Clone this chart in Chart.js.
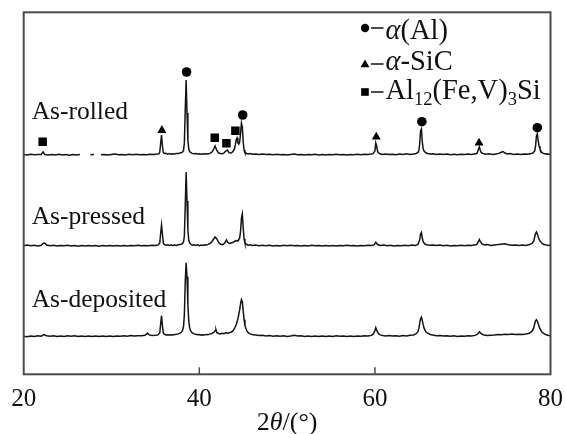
<!DOCTYPE html>
<html>
<head>
<meta charset="utf-8">
<script src="https://cdn.jsdelivr.net/npm/chart.js@4.4.0/dist/chart.umd.min.js"></script>
<style>
html,body{margin:0;padding:0;background:#fff;}
canvas{display:block;}
</style>
</head>
<body>
<canvas id="c" width="565" height="434"></canvas>
<script>
// ---- data (2θ in degrees, intensity in arbitrary units above each trace's baseline) ----
const tickValues = [20, 40, 60, 80];
const sampleNames = ['As-rolled', 'As-pressed', 'As-deposited'];
const traceOffsets = [219.3, 128.3, 37.6];

const asRolled = [
[20.0,0.5],[20.4,0],[20.8,0.8],[21.2,0.2],[21.6,0.6],[22.0,0.4],[22.2,3.2],[22.4,0.5],[22.8,0],[23.2,0.6],
[23.6,0.1],[24.0,0.7],[24.4,0],[24.8,0.4],[25.2,-0.2],[25.6,0.6],[26.0,0.1],[26.4,0.5],[26.8,null],[27.2,null],
[27.6,0.3],[28.0,0.5],[28.4,null],[28.8,0.2],[29.2,0.6],[29.6,0],[30.0,0.5],[30.4,0.9],[30.8,0.2],[31.2,0.6],
[31.6,0.1],[32.0,0.7],[32.4,0.3],[32.8,0.8],[33.2,0.2],[33.6,0.6],[34.0,0.3],[34.4,0.8],[34.8,0.4],[35.2,0.9],
[35.4,1.2],[35.5,3],[35.6,12],[35.7,20],[35.8,9],[35.9,2.5],[36.0,1.5],[36.2,1.8],[36.4,0.9],[36.6,1.4],
[36.8,0.8],[37.0,1.3],[37.2,1],[37.4,1.6],[37.6,1.4],[37.8,2],[38.0,2.4],[38.1,3],[38.2,4.5],[38.3,12],
[38.4,45],[38.5,75],[38.6,42],[38.7,15],[38.8,6],[38.9,3.5],[39.0,2.5],[39.2,1.6],[39.4,1.2],[39.6,1.5],
[39.8,0.9],[40.0,1.2],[40.2,0.8],[40.4,1.3],[40.6,0.9],[40.8,1.2],[41.0,1.1],[41.2,1.6],[41.4,2.5],[41.6,5],
[41.8,9],[42.0,4.5],[42.2,2],[42.4,1.5],[42.6,1.2],[42.8,1.8],[43.0,4],[43.2,5],[43.4,2.2],[43.6,2],
[43.8,3],[44.0,6],[44.1,10],[44.2,15],[44.3,17],[44.4,12],[44.5,11],[44.6,13],[44.7,22],[44.8,32],
[44.9,28],[45.0,13],[45.1,5],[45.2,2.5],[45.4,1.5],[45.6,1],[45.8,1.4],[46.0,0.8],[46.4,1.1],[46.8,0.5],
[47.2,0.9],[47.6,0.4],[48.0,0.8],[48.4,0.3],[48.8,0.7],[49.2,0.2],[49.6,0.6],[50.0,0.1],[50.4,0.5],[50.8,0.9],
[51.2,0.3],[51.6,0.6],[52.0,0],[52.4,0.5],[52.8,0.2],[53.2,0.7],[53.6,0.1],[54.0,0.5],[54.4,0],[54.8,0.6],
[55.2,0.2],[55.6,0.7],[56.0,0.3],[56.4,0.6],[56.8,0],[57.2,0.5],[57.6,0.2],[58.0,0.7],[58.4,0.3],[58.8,0.8],
[59.2,0.4],[59.6,0.9],[59.8,1.3],[60.0,4],[60.1,12],[60.2,9],[60.3,4],[60.4,2],[60.6,1.2],[60.8,0.6],
[61.2,1],[61.6,0.4],[62.0,0.8],[62.4,0.2],[62.8,1],[63.2,0.5],[63.6,1.2],[64.0,0.6],[64.4,1],[64.7,1.5],
[64.9,2.5],[65.0,4],[65.1,11],[65.2,24],[65.3,26],[65.4,13],[65.5,6],[65.6,4],[65.8,2.2],[66.0,1.5],
[66.3,1],[66.6,1.3],[67.0,0.6],[67.4,1],[67.8,0.4],[68.2,0.9],[68.6,0.3],[69.0,0.8],[69.4,0.2],[69.8,0.7],
[70.2,0.4],[70.6,1],[71.0,0.5],[71.3,1.1],[71.6,1.5],[71.7,3],[71.8,6],[71.9,8],[72.0,5],[72.1,2.5],
[72.3,1.5],[72.6,0.8],[73.0,1.2],[73.4,0.5],[73.8,1.1],[74.1,1.6],[74.4,2.8],[74.6,3.5],[74.8,2],[75.1,1],
[75.4,1.4],[75.8,0.6],[76.2,1],[76.6,0.5],[77.0,1.1],[77.4,0.7],[77.8,1.4],[78.0,2],[78.2,4],[78.3,9],
[78.4,19],[78.5,21],[78.6,14],[78.7,9],[78.8,6],[78.9,4],[79.0,2.5],[79.2,1.6],[79.4,1],[79.6,1.3],
[79.8,0.7],[80.0,1]
];

const asPressed = [
[20.0,0.3],[20.4,0.9],[20.8,0.2],[21.2,0.7],[21.6,0.1],[22.0,0.8],[22.2,2.5],[22.4,3],[22.6,0.9],[23.0,0.3],
[23.4,0.8],[23.8,0],[24.2,0.6],[24.6,0.2],[25.0,0.7],[25.4,0],[25.8,0.5],[26.2,-0.2],[26.6,0.4],[27.0,0],
[27.4,0.6],[27.8,0.1],[28.2,0.5],[28.6,-0.2],[29.0,0.4],[29.4,0],[29.8,0.6],[30.2,0.1],[30.6,0.5],[31.0,-0.1],
[31.4,0.4],[31.8,0],[32.2,0.6],[32.6,0.2],[33.0,0.7],[33.4,0.2],[33.8,0.6],[34.2,0.3],[34.6,0.8],[35.0,0.5],
[35.3,1],[35.5,3],[35.6,13],[35.7,21],[35.8,12],[35.9,3],[36.0,1.5],[36.2,0.8],[36.4,1.2],[36.6,0.6],
[36.8,1.1],[37.0,0.5],[37.2,1],[37.4,0.6],[37.6,1.2],[37.8,1.4],[38.0,2],[38.1,2.5],[38.2,4],[38.3,10],
[38.4,40],[38.5,74],[38.6,45],[38.7,16],[38.8,6],[38.9,3],[39.0,2],[39.2,0.8],[39.4,1.3],[39.6,0.6],
[39.8,1.1],[40.0,0.4],[40.2,1],[40.4,0.5],[40.6,1.2],[40.8,0.9],[41.0,1.6],[41.2,2.5],[41.4,4],[41.6,6.5],
[41.8,9],[42.0,7],[42.2,3.5],[42.4,2],[42.6,1.2],[42.8,2],[43.0,4.5],[43.1,6],[43.2,4],[43.4,2.5],
[43.6,3],[43.8,3.5],[44.0,4.5],[44.2,5.5],[44.4,5],[44.6,8],[44.7,15],[44.8,28],[44.9,32],[45.0,18],
[45.1,7],[45.2,3],[45.4,1.5],[45.6,0.8],[45.8,1.2],[46.0,0.5],[46.4,1],[46.8,0.3],[47.2,0.8],[47.6,0.2],
[48.0,0.7],[48.4,0],[48.8,0.6],[49.2,0.1],[49.6,0.7],[50.0,0.2],[50.4,0.8],[50.8,0.3],[51.2,0.6],[51.6,0],
[52.0,0.5],[52.4,0.1],[52.8,0.7],[53.2,0.2],[53.6,0.6],[54.0,-0.1],[54.4,0.5],[54.8,0.1],[55.2,0.6],[55.6,0],
[56.0,0.5],[56.4,0.2],[56.8,0.8],[57.2,0.3],[57.6,0.6],[58.0,0],[58.4,0.5],[58.8,0.2],[59.2,0.7],[59.6,0.4],
[59.9,1.2],[60.1,3.8],[60.3,1.5],[60.6,0.6],[61.0,0.9],[61.4,0.3],[61.8,0.8],[62.2,0.1],[62.6,0.6],[63.0,0.2],
[63.4,0.8],[63.8,0.3],[64.2,0.9],[64.6,0.6],[64.9,1.5],[65.1,6],[65.2,12],[65.3,13.5],[65.4,8],[65.5,4],
[65.7,2],[65.9,1.3],[66.2,0.8],[66.6,1],[67.0,0.4],[67.4,0.9],[67.8,0.2],[68.2,0.7],[68.6,0],[69.0,0.6],
[69.4,0.2],[69.8,0.8],[70.2,0.3],[70.6,0.7],[71.0,0.4],[71.3,1],[71.6,1.5],[71.8,4.5],[71.9,6.5],[72.0,4.5],
[72.2,2],[72.5,1],[72.8,1.4],[73.2,0.6],[73.6,1.1],[74.0,1.4],[74.4,1.8],[74.8,2.2],[75.2,1.2],[75.6,0.7],
[76.0,1],[76.4,0.4],[76.8,0.9],[77.2,0.6],[77.6,1.4],[77.9,2.5],[78.1,5],[78.2,9],[78.3,12.5],[78.4,14],
[78.5,12],[78.6,9],[78.8,5],[79.0,3],[79.2,1.8],[79.5,1],[79.8,0.6],[80.0,0.9]
];

const asDeposited = [
[20.0,0.5],[20.4,0],[20.8,0.7],[21.2,0.3],[21.6,0.9],[22.0,0.5],[22.3,2.2],[22.6,1],[23.0,0.4],[23.4,1],
[23.8,0.3],[24.2,0.8],[24.6,0.2],[25.0,0.9],[25.4,0.4],[25.8,1],[26.2,0.3],[26.6,0.8],[27.0,0.2],[27.4,0.7],
[27.8,0.1],[28.2,0.6],[28.6,0.2],[29.0,0.8],[29.4,0.3],[29.8,0.7],[30.2,0.2],[30.6,0.8],[31.0,0.4],[31.4,0.9],
[31.8,0.5],[32.2,1.1],[32.6,0.6],[33.0,1],[33.4,0.9],[33.8,1.5],[34.0,2.5],[34.1,3.5],[34.3,1.8],[34.6,1.2],
[35.0,1.5],[35.3,1.8],[35.5,4],[35.6,13],[35.7,21],[35.8,11],[35.9,4],[36.0,2.5],[36.2,1.8],[36.4,2],
[36.6,1.6],[36.8,2],[37.0,1.8],[37.2,2.2],[37.4,2.4],[37.6,2.8],[37.8,3.5],[38.0,5],[38.1,6.5],[38.2,10],
[38.3,22],[38.4,55],[38.5,74],[38.6,60],[38.7,32],[38.8,16],[38.9,9],[39.0,6],[39.2,3.8],[39.4,2.8],
[39.6,2.5],[39.8,2],[40.0,2.2],[40.2,1.6],[40.4,2],[40.6,1.8],[40.8,2.3],[41.0,2],[41.2,2.6],[41.4,3],
[41.6,4],[41.8,6],[41.9,7],[42.0,4],[42.2,3.2],[42.4,2.8],[42.6,3.5],[42.8,3],[43.0,3.8],[43.2,3.5],
[43.4,4],[43.6,4.5],[43.8,5.5],[44.0,8],[44.2,12],[44.4,18],[44.6,27],[44.7,33],[44.8,37],[44.9,35],
[45.0,26],[45.1,17],[45.2,11],[45.4,6],[45.6,3.8],[45.8,2.8],[46.0,2.2],[46.4,1.8],[46.8,1.2],[47.2,1.5],
[47.6,0.8],[48.0,1.2],[48.4,0.5],[48.8,1],[49.2,0.4],[49.6,0.9],[50.0,0.3],[50.4,0.8],[50.8,1.4],[51.2,0.6],
[51.6,1],[52.0,0.3],[52.4,0.8],[52.8,0.2],[53.2,0.7],[53.6,0.1],[54.0,0.6],[54.4,0.2],[54.8,0.8],[55.2,0.3],
[55.6,0.9],[56.0,0.4],[56.4,0.7],[56.8,0.1],[57.2,0.6],[57.6,0.2],[58.0,0.8],[58.4,0.4],[58.8,1],[59.2,0.6],
[59.6,1.3],[59.8,2.5],[60.0,6],[60.1,9],[60.2,6.5],[60.4,3],[60.6,1.8],[60.9,1.2],[61.2,0.8],[61.6,1.3],
[62.0,0.6],[62.4,1],[62.8,0.5],[63.2,1.2],[63.6,0.8],[64.0,1.5],[64.4,1.8],[64.7,3],[64.9,5],[65.0,8],
[65.1,13],[65.2,18],[65.3,19.5],[65.4,16],[65.5,12],[65.6,8.5],[65.8,5],[66.0,3.5],[66.3,2.2],[66.6,1.6],
[67.0,1],[67.4,1.3],[67.8,0.6],[68.2,1],[68.6,0.4],[69.0,0.9],[69.4,0.3],[69.8,0.8],[70.2,0.5],[70.6,1],
[71.0,0.7],[71.4,1.3],[71.7,2.5],[71.9,5],[72.1,3],[72.4,1.6],[72.8,1.2],[73.2,1.5],[73.6,1.8],[74.0,2.2],
[74.4,1.9],[74.8,2.4],[75.2,2.1],[75.6,2.6],[76.0,2.2],[76.4,2.5],[76.8,2.2],[77.2,2.8],[77.6,3.5],[77.9,5.5],
[78.1,9],[78.2,13],[78.3,16],[78.4,17],[78.5,15.5],[78.6,13],[78.8,8],[79.0,5],[79.2,3.2],[79.5,2],
[79.8,1.2],[80.0,1]
];

// phase markers above the As-rolled trace: [2θ, height above As-rolled baseline]
const alphaAlPeaks = [[38.55,83],[44.94,40],[65.35,33.3],[78.5,27.3]];
const alphaSiCPeaks = [[35.74,24.7],[60.16,18],[71.86,12]];
const al12Peaks = [[22.16,13.3],[41.76,17.3],[43.09,11.7],[44.11,24.3]];

// ---- build chart ----
const SERIF = "'Liberation Serif','Times New Roman',serif";
function toPts(arr, off) { return arr.map(([x, v]) => ({x: x, y: v === null ? null : v + off})); }

const lineDs = [asRolled, asPressed, asDeposited].map((arr, i) => ({
  label: sampleNames[i],
  data: toPts(arr, traceOffsets[i]),
  borderColor: '#141414',
  borderWidth: 1.5,
  pointRadius: 0,
  tension: 0,
  spanGaps: false,
  fill: false
}));
function markerDs(arr, style, r) {
  return {
    data: toPts(arr, traceOffsets[0]),
    showLine: false,
    pointStyle: style,
    pointRadius: r,
    pointBackgroundColor: '#000',
    pointBorderColor: '#000',
    pointBorderWidth: 0
  };
}

function drawRuns(ctx, runs, x, y) {
  for (const r of runs) {
    ctx.font = r.font;
    ctx.fillText(r.t, x, y + (r.dy || 0));
    x += ctx.measureText(r.t).width;
  }
}

const deco = {
  id: 'deco',
  afterDraw(chart) {
    const {ctx, chartArea: a, scales: {x}} = chart;
    ctx.save();
    // frame
    ctx.strokeStyle = '#4a4a4a';
    ctx.lineWidth = 2;
    ctx.strokeRect(a.left, a.top, a.right - a.left, a.bottom - a.top);
    // inward ticks
    ctx.lineWidth = 1.5;
    for (const v of tickValues) {
      const px = x.getPixelForValue(v);
      if (px <= a.left + 1 || px >= a.right - 1) continue;
      ctx.beginPath();
      ctx.moveTo(px, a.bottom);
      ctx.lineTo(px, a.bottom - 7);
      ctx.stroke();
    }
    ctx.fillStyle = '#111';
    ctx.textBaseline = 'alphabetic';
    ctx.textAlign = 'left';
    // sample labels
    const lblY = [119.3, 224.3, 306.7];
    ctx.font = '25.5px ' + SERIF;
    sampleNames.forEach((n, i) => ctx.fillText(n, a.left + 8, lblY[i]));
    // axis title
    const f = '26px ' + SERIF, fi = 'italic 26px ' + SERIF;
    const titleRuns = [{t: '2', font: f}, {t: 'θ', font: fi}, {t: '/(°)', font: f}];
    let w = 0;
    for (const r of titleRuns) { ctx.font = r.font; w += ctx.measureText(r.t).width; }
    drawRuns(ctx, titleRuns, (a.left + a.right) / 2 - w / 2, 430);
    // legend
    const lx = 365;
    const lf = '28.5px ' + SERIF, lfi = 'italic 28.5px ' + SERIF, ls = '18.5px ' + SERIF;
    const rows = [
      {my: 28, ty: 38.5, runs: [{t: 'α', font: lfi}, {t: '(Al)', font: lf}]},
      {my: 64, ty: 69.5, runs: [{t: 'α', font: lfi}, {t: '-SiC', font: lf}]},
      {my: 92, ty: 99, runs: [{t: 'Al', font: lf}, {t: '12', font: ls, dy: 5.5}, {t: '(Fe,V)', font: lf}, {t: '3', font: ls, dy: 5.5}, {t: 'Si', font: lf}]}
    ];
    ctx.fillStyle = '#000';
    // circle
    ctx.beginPath(); ctx.arc(lx, rows[0].my, 4.2, 0, Math.PI * 2); ctx.fill();
    // triangle
    ctx.beginPath(); ctx.moveTo(lx, rows[1].my - 4.5); ctx.lineTo(lx + 4.4, rows[1].my + 3.2); ctx.lineTo(lx - 4.4, rows[1].my + 3.2); ctx.closePath(); ctx.fill();
    // square
    ctx.fillRect(lx - 3.8, rows[2].my - 3.8, 7.6, 7.6);
    ctx.strokeStyle = '#111';
    ctx.lineWidth = 1.5;
    ctx.fillStyle = '#111';
    rows.forEach(r => {
      ctx.beginPath(); ctx.moveTo(lx + 6, r.my); ctx.lineTo(lx + 18.5, r.my); ctx.stroke();
      drawRuns(ctx, r.runs, lx + 20.5, r.ty);
    });
    ctx.restore();
  }
};

new Chart(document.getElementById('c'), {
  type: 'line',
  data: {
    datasets: [
      ...lineDs,
      markerDs(alphaAlPeaks, 'circle', 4.8),
      markerDs(alphaSiCPeaks, 'triangle', 5.2),
      markerDs(al12Peaks, 'rect', 6)
    ]
  },
  options: {
    responsive: false,
    devicePixelRatio: 1,
    animation: false,
    events: [],
    layout: {padding: {left: 23.7, right: 13, top: 12.3, bottom: 0}},
    plugins: {legend: {display: false}, tooltip: {enabled: false}},
    scales: {
      x: {
        type: 'linear', min: 20, max: 80,
        afterBuildTicks: s => { s.ticks = tickValues.map(v => ({value: v})); },
        afterFit: s => { s.height = 434 - 374.3; },
        grid: {display: false},
        border: {display: false},
        ticks: {font: {family: SERIF, size: 25}, color: '#111', padding: 2, maxRotation: 0, autoSkip: false}
      },
      y: {display: false, min: 0, max: 362}
    }
  },
  plugins: [deco]
});
</script>
</body>
</html>
